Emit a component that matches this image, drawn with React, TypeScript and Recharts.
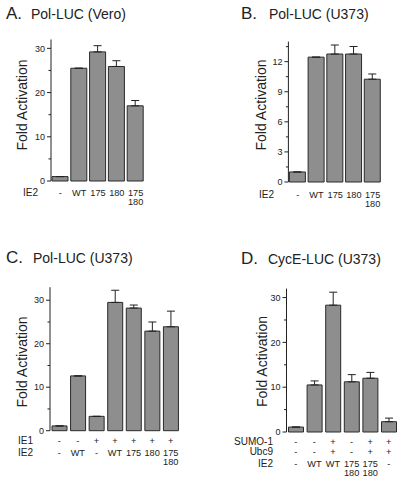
import React from 'react';
import { BarChart, Bar, XAxis, YAxis, ErrorBar } from 'recharts';

const FONT = '"Liberation Sans", Arial, Helvetica, sans-serif';
const INK = '#222';

// A. Pol-LUC (Vero)
const aValues = [1.0, 25.5, 29.2, 25.9, 17.0];
const aErrors = [0, 0, 1.4, 1.3, 1.2];
const aIE2 = ['-', 'WT', '175', '180', '175\n180'];
const aTicks = [0, 5, 10, 15, 20, 25, 30];

// B. Pol-LUC (U373)
const bValues = [1.0, 12.45, 12.76, 12.76, 10.25];
const bErrors = [0, 0, 0.9, 0.75, 0.52];
const bIE2 = ['-', 'WT', '175', '180', '175\n180'];
const bTicks = [0, 1.5, 3, 4.5, 6, 7.5, 9, 10.5, 12, 13.5];

// C. Pol-LUC (U373), with IE1
const cValues = [1.1, 12.6, 3.3, 29.5, 28.2, 22.9, 23.9];
const cErrors = [0, 0, 0, 2.8, 0.7, 2.1, 3.6];
const cIE1 = ['-', '-', '+', '+', '+', '+', '+'];
const cIE2 = ['-', 'WT', '-', 'WT', '175', '180', '175\n180'];
const cTicks = [0, 5, 10, 15, 20, 25, 30];

// D. CycE-LUC (U373)
const dValues = [1.1, 10.5, 28.3, 11.2, 12.0, 2.3];
const dErrors = [0, 0.9, 2.9, 1.6, 1.3, 0.8];
const dSUMO = ['-', '-', '+', '-', '+', '+'];
const dUbc9 = ['-', '-', '+', '-', '+', '+'];
const dIE2 = ['-', 'WT', 'WT', '175\n180', '175\n180', '-'];
const dTicks = [0, 5, 10, 15, 20, 25, 30];

// all positions in page pixels
type PanelCfg = {
    left: number; top: number; width: number; height: number;
    plotLeft: number; plotTop: number; plotBottom: number; right: number;
    max: number; major: number; ticks: number[]; barSize: number;
    values: number[]; errors: number[]; rows: string[][]; rowY: number[]; lineGap: number;
};

const panels: PanelCfg[] = [
    { left: 0, top: 0, width: 150, height: 215, plotLeft: 51, plotTop: 39.5, plotBottom: 181, right: 5,
      max: 32, major: 10, ticks: aTicks, barSize: 16, values: aValues, errors: aErrors,
      rows: [aIE2], rowY: [196], lineGap: 8.5 },
    { left: 201, top: 0, width: 186, height: 216, plotLeft: 288.4, plotTop: 41.6, plotBottom: 182, right: 5,
      max: 14, major: 3, ticks: bTicks, barSize: 16, values: bValues, errors: bErrors,
      rows: [bIE2], rowY: [198], lineGap: 8.5 },
    { left: 0, top: 242, width: 185, height: 235, plotLeft: 50, plotTop: 287.2, plotBottom: 430.7, right: 5,
      max: 33, major: 10, ticks: cTicks, barSize: 15, values: cValues, errors: cErrors,
      rows: [cIE1, cIE2], rowY: [443.5, 456], lineGap: 9 },
    { left: 201, top: 242, width: 201, height: 242, plotLeft: 286.5, plotTop: 288.6, plotBottom: 432, right: 3.9,
      max: 32, major: 10, ticks: dTicks, barSize: 15, values: dValues, errors: dErrors,
      rows: [dSUMO, dUbc9, dIE2], rowY: [445, 455, 466.5], lineGap: 9 },
];

const Panel = ({ cfg }: { cfg: PanelCfg }) => {
    const data = cfg.values.map((v, i) => ({ name: String(i), value: v, err: [0, cfg.errors[i]] }));
    const axisX = cfg.plotLeft - cfg.left;

    const yTick = (props: any) => {
        const { y, payload } = props;
        const v = payload.value;
        const isMajor = Math.abs(v / cfg.major - Math.round(v / cfg.major)) < 1e-6;
        return (
            <g>
                <line x1={axisX - (isMajor ? 4 : 2.5)} x2={axisX} y1={y} y2={y} stroke={INK} strokeWidth={1} />
                {isMajor && (
                    <text x={axisX - 6} y={y + 3.2} textAnchor="end" fontSize={9} fill={INK} fontFamily={FONT}>{v}</text>
                )}
            </g>
        );
    };

    const xTick = (props: any) => {
        const { x, payload } = props;
        const i = Number(payload.value);
        return (
            <g>
                {cfg.rows.map((row, r) =>
                    row[i].split('\n').map((ln, k) => (
                        <text key={r + '-' + k} x={x} y={cfg.rowY[r] - cfg.top + k * cfg.lineGap}
                            textAnchor="middle" fontSize={9.2} fill={INK} fontFamily={FONT}>{ln}</text>
                    ))
                )}
            </g>
        );
    };

    return (
        <div style={{ position: 'absolute', left: cfg.left, top: cfg.top }}>
            <BarChart width={cfg.width} height={cfg.height} data={data}
                margin={{ top: cfg.plotTop - cfg.top, right: cfg.right, left: 0, bottom: 0 }}>
                <YAxis type="number" domain={[0, cfg.max]} ticks={cfg.ticks} width={axisX}
                    tickLine={false} axisLine={{ stroke: INK, strokeWidth: 1 }} tick={yTick} interval={0} />
                <XAxis dataKey="name" height={cfg.height - (cfg.plotBottom - cfg.top)}
                    tickLine={false} axisLine={false} tick={xTick} interval={0} />
                <Bar dataKey="value" fill="#8e8e8e" stroke="#2a2a2a" strokeWidth={1}
                    barSize={cfg.barSize} isAnimationActive={false}>
                    <ErrorBar dataKey="err" direction="y" width={4} stroke={INK} strokeWidth={1} />
                </Bar>
            </BarChart>
        </div>
    );
};

const titles = [
    { letter: 'A.', text: 'Pol-LUC (Vero)', x: 6, tx: 31, y: 19 },
    { letter: 'B.', text: 'Pol-LUC (U373)', x: 241, tx: 269, y: 19 },
    { letter: 'C.', text: 'Pol-LUC (U373)', x: 6, tx: 33, y: 263 },
    { letter: 'D.', text: 'CycE-LUC (U373)', x: 241, tx: 268, y: 264 },
];

const yLabels = [
    { x: 27, y: 105 },
    { x: 266, y: 105 },
    { x: 26.5, y: 362 },
    { x: 267, y: 361.5 },
];

const rowNames = [
    { text: 'IE2', x: 23, y: 196, anchor: 'start' },
    { text: 'IE2', x: 259, y: 198, anchor: 'start' },
    { text: 'IE1', x: 18, y: 443.5, anchor: 'start' },
    { text: 'IE2', x: 18, y: 456, anchor: 'start' },
    { text: 'SUMO-1', x: 273, y: 445, anchor: 'end' },
    { text: 'Ubc9', x: 273, y: 455, anchor: 'end' },
    { text: 'IE2', x: 273, y: 466.5, anchor: 'end' },
];

export default function App() {
    return (
        <div style={{ position: 'absolute', left: 0, top: 0, width: 402, height: 484, background: '#fff', fontFamily: FONT }}>
            {panels.map((p, i) => <Panel key={i} cfg={p} />)}
            <svg width={402} height={484} style={{ position: 'absolute', left: 0, top: 0, pointerEvents: 'none' }}>
                {titles.map((t, i) => (
                    <g key={i} fill={INK} fontFamily={FONT}>
                        <text x={t.x} y={t.y} fontSize={17}>{t.letter}</text>
                        <text x={t.tx} y={t.y} fontSize={14}>{t.text}</text>
                    </g>
                ))}
                {yLabels.map((l, i) => (
                    <text key={i} x={l.x} y={l.y} transform={`rotate(-90, ${l.x}, ${l.y})`} textAnchor="middle"
                        fontSize={14} fill={INK} fontFamily={FONT}>Fold Activation</text>
                ))}
                {rowNames.map((r, i) => (
                    <text key={i} x={r.x} y={r.y} textAnchor={r.anchor as any} fontSize={10} fill={INK} fontFamily={FONT}>{r.text}</text>
                ))}
            </svg>
        </div>
    );
}
